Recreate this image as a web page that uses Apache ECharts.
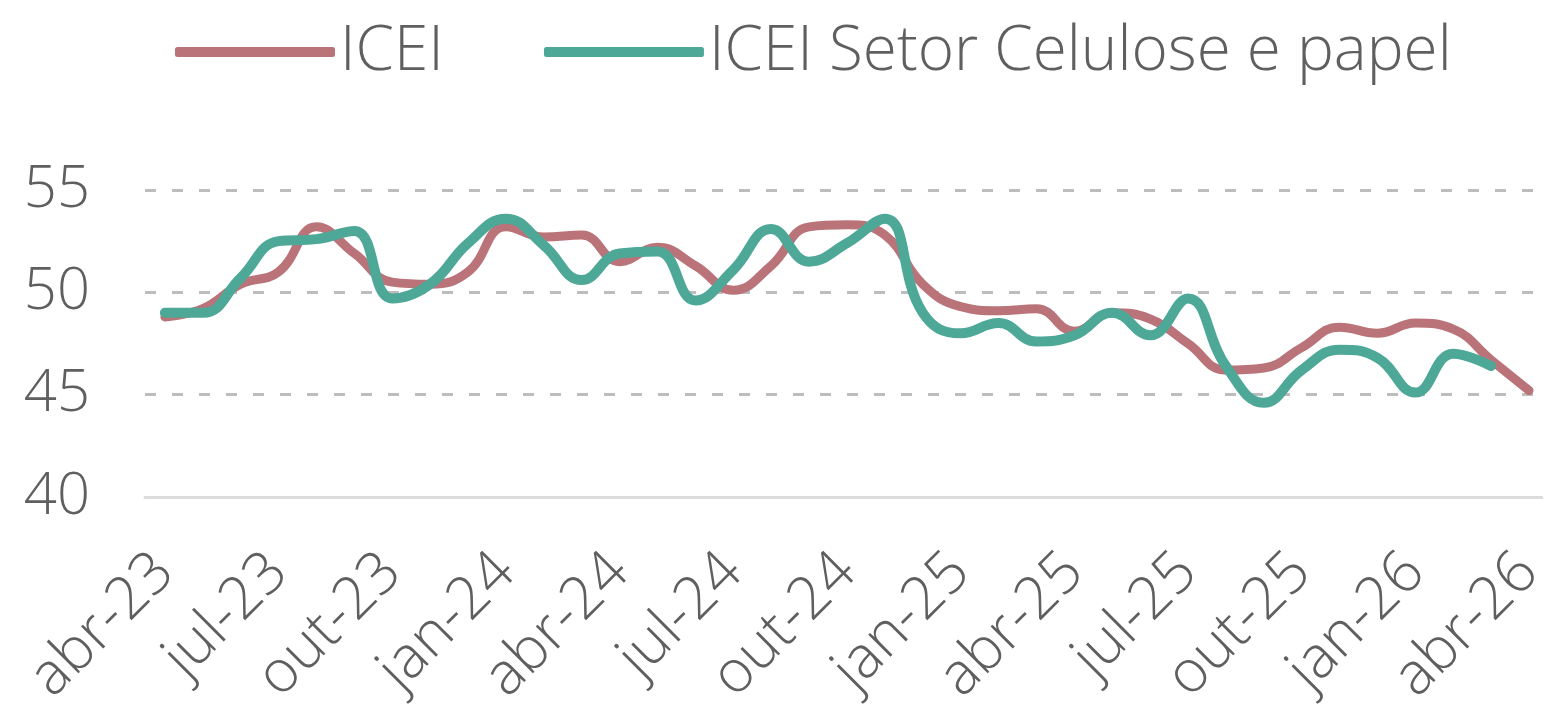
<!DOCTYPE html>
<html>
<head>
<meta charset="utf-8">
<script src="https://cdn.jsdelivr.net/npm/echarts@6/dist/echarts.min.js"></script>
<style>
html,body{margin:0;padding:0;background:#fff;}
#chart{width:1552px;height:719px;}
</style>
</head>
<body>
<div id="chart"></div>
<script>
// Months (abr-23 .. abr-26)
const months = ['abr-23','mai-23','jun-23','jul-23','ago-23','set-23','out-23','nov-23','dez-23',
  'jan-24','fev-24','mar-24','abr-24','mai-24','jun-24','jul-24','ago-24','set-24','out-24','nov-24','dez-24',
  'jan-25','fev-25','mar-25','abr-25','mai-25','jun-25','jul-25','ago-25','set-25','out-25','nov-25','dez-25',
  'jan-26','fev-26','mar-26','abr-26'];
const labelEvery = 3;
const seriesNames = ['ICEI', 'ICEI Setor Celulose e papel'];
const icei = [48.8,49.2,50.4,51.0,53.2,51.9,50.5,50.4,51.0,53.2,52.7,52.8,
  51.5,52.2,51.3,50.1,51.3,53.2,53.3,52.8,50.4,49.3,49.1,49.2,
  48.1,49.0,48.7,47.5,46.2,46.3,47.3,48.3,48.0,48.5,48.2,46.7,45.2];
const celulose = [49.0,49.0,50.7,52.5,52.6,53.0,49.7,50.4,52.4,53.6,52.3,50.6,
  51.9,52.0,49.6,51.1,53.1,51.5,52.4,53.6,49.0,48.0,48.5,47.6,
  47.9,49.0,47.9,49.7,46.4,44.6,46.2,47.2,46.8,45.1,47.0,46.4];
const yTicks = [40, 45, 50, 55];

const toPairs = arr => arr.map((v, i) => [i, v]);
const labelPositions = months.map((m, i) => i).filter(i => i % labelEvery === 0);

const FONT = "'Open Sans', sans-serif";
const TXT = '#5f5f5f';

const chart = echarts.init(document.getElementById('chart'), null, {renderer: 'canvas'});
chart.setOption({
  animation: false,
  backgroundColor: '#ffffff',
  legend: {
    left: 170, top: 16,
    itemWidth: 160, itemHeight: 10, itemGap: 100,
    icon: 'roundRect',
    textStyle: {fontFamily: FONT, fontSize: 62, fontWeight: 300, color: TXT},
    data: seriesNames
  },
  grid: {left: 145, right: 4, top: 190, bottom: 222},
  xAxis: {
    type: 'value',
    min: -0.525, max: 36.34,
    splitLine: {show: false},
    axisTick: {show: false},
    axisLine: {show: true, lineStyle: {color: '#dcdcdc', width: 3}},
    axisLabel: {
      customValues: labelPositions,
      formatter: v => months[Math.round(v)],
      rotate: 45, margin: 66,
      fontFamily: FONT, fontSize: 59, fontWeight: 300, color: TXT
    }
  },
  yAxis: {
    type: 'value',
    min: yTicks[0], max: yTicks[yTicks.length - 1], interval: 5,
    axisLine: {show: false}, axisTick: {show: false},
    splitLine: {show: true, lineStyle: {color: '#bdbdbd', width: 3, type: [11, 16]}},
    axisLabel: {margin: 55, fontFamily: FONT, fontSize: 58, fontWeight: 300, color: TXT}
  },
  series: [
    {
      name: seriesNames[0], type: 'line', smooth: 0.45, showSymbol: false,
      data: toPairs(icei),
      itemStyle: {color: '#b97379'},
      lineStyle: {color: '#b97379', width: 9, cap: 'round', join: 'round'}
    },
    {
      name: seriesNames[1], type: 'line', smooth: 0.45, showSymbol: false,
      data: toPairs(celulose),
      itemStyle: {color: '#4ea898'},
      lineStyle: {color: '#4ea898', width: 10, cap: 'round', join: 'round'}
    }
  ]
});
</script>
</body>
</html>
